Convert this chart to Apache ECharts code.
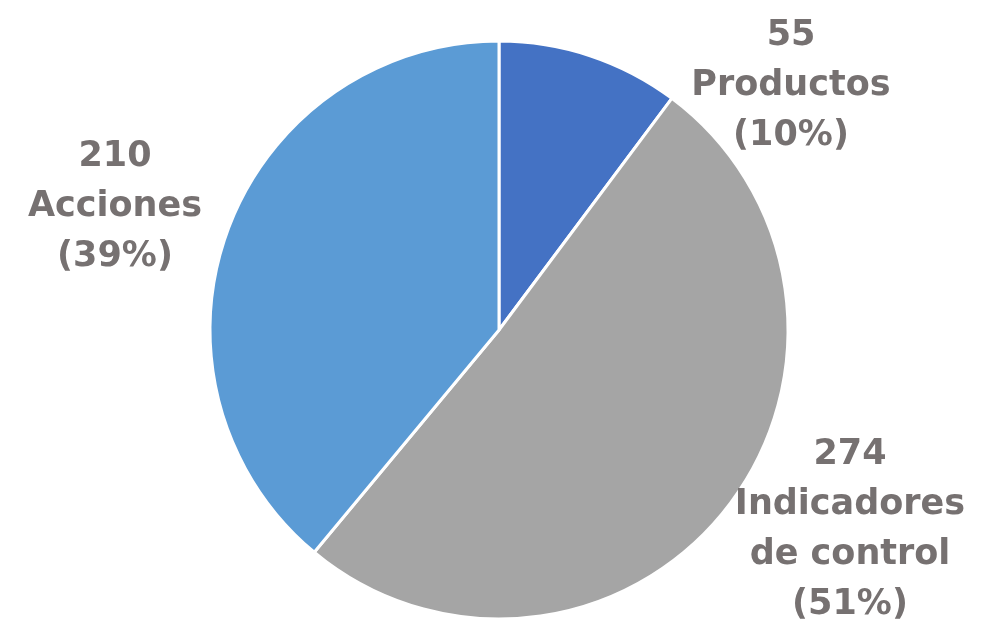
<!DOCTYPE html>
<html>
<head>
<meta charset="utf-8">
<script src="https://cdn.jsdelivr.net/npm/echarts@6/dist/echarts.min.js"></script>
<style>
  html, body { margin: 0; padding: 0; background: #fff; }
  #chart { width: 987px; height: 635px; }
</style>
</head>
<body>
<div id="chart"></div>
<script>
const categories = ['Productos', 'Indicadores\nde control', 'Acciones'];
const values = [55, 274, 210];
const colors = ['#4472C4', '#A5A5A5', '#5B9BD5'];
// label anchor points (x, y) for each slice
const labelSpots = [[791, 86], [850, 530], [115, 207]];

const chart = echarts.init(document.getElementById('chart'));
chart.setOption({
  animation: false,
  series: [{
    type: 'pie',
    center: [499, 330],
    radius: 289,
    startAngle: 90,
    clockwise: true,
    percentPrecision: 0,
    itemStyle: { borderColor: '#fff', borderWidth: 3 },
    label: {
      show: true,
      position: 'inside',
      overflow: 'none',
      formatter: p => p.value + '\n' + p.name + '\n(' + p.percent + '%)',
      color: '#767171',
      fontFamily: 'DejaVu Sans',
      fontWeight: 'bold',
      fontSize: 35,
      lineHeight: 50,
      align: 'center'
    },
    labelLine: { show: false },
    labelLayout: p => ({
      x: labelSpots[p.dataIndex][0],
      y: labelSpots[p.dataIndex][1],
      align: 'center',
      verticalAlign: 'middle'
    }),
    data: categories.map((c, i) => ({
      name: c,
      value: values[i],
      itemStyle: { color: colors[i] }
    }))
  }]
});
</script>
</body>
</html>
